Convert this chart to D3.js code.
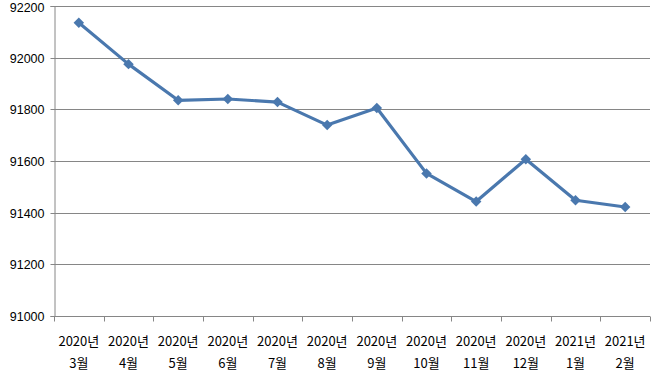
<!DOCTYPE html>
<html>
<head>
<meta charset="utf-8">
<script src="https://cdn.jsdelivr.net/npm/d3@7"></script>
<style>
  body { margin: 0; background: #fff; }
  text { font-family: "Noto Sans CJK KR", "Noto Sans", sans-serif; fill: #000; }
</style>
</head>
<body>
<svg id="chart"></svg>
<script>
const years = ['2020년', '2020년', '2020년', '2020년', '2020년', '2020년', '2020년', '2020년', '2020년', '2020년', '2021년', '2021년'];
const months = ['3월', '4월', '5월', '6월', '7월', '8월', '9월', '10월', '11월', '12월', '1월', '2월'];
const values = [92135, 91975, 91835, 91840, 91828, 91739, 91805, 91552, 91443, 91607, 91448, 91422];
const yTicks = [91000, 91200, 91400, 91600, 91800, 92000, 92200];

const width = 654, height = 388;
const margin = { top: 6, right: 4, bottom: 72, left: 54 };

const svg = d3.select('#chart').attr('width', width).attr('height', height);

const x = d3.scaleBand()
  .domain(d3.range(values.length))
  .range([margin.left, width - margin.right]);

const y = d3.scaleLinear()
  .domain([91000, 92200])
  .range([height - margin.bottom, margin.top]);

const axisColor = '#868686';

// gridlines
svg.append('g')
  .selectAll('line')
  .data(yTicks)
  .enter().append('line')
  .attr('x1', margin.left)
  .attr('x2', width - margin.right)
  .attr('y1', d => Math.round(y(d)) + 0.5)
  .attr('y2', d => Math.round(y(d)) + 0.5)
  .attr('stroke', axisColor);

// y axis
const yAxis = svg.append('g')
  .attr('transform', `translate(${margin.left + 0.5},0)`)
  .call(d3.axisLeft(y).tickValues(yTicks).tickSize(4).tickPadding(6).tickFormat(d3.format('d')));
yAxis.select('.domain').attr('stroke', axisColor);
yAxis.selectAll('.tick line').attr('stroke', axisColor);
yAxis.selectAll('.tick').attr('transform', d => `translate(0,${Math.round(y(d)) + 0.5})`);
yAxis.selectAll('text')
  .style('font-family', '"Liberation Sans", Arial, sans-serif')
  .style('font-size', '12.5px')
  .attr('fill', '#000')
  .attr('dy', d => d === 92200 ? '0.42em' : '0.36em');

// x axis ticks at band boundaries
const xBase = Math.round(y(91000)) + 0.5;
const bounds = d3.range(values.length + 1).map(i => i < values.length ? x(i) : x(values.length - 1) + x.bandwidth());
svg.append('g')
  .selectAll('line')
  .data(bounds)
  .enter().append('line')
  .attr('x1', d => Math.round(d) + 0.5)
  .attr('x2', d => Math.round(d) + 0.5)
  .attr('y1', xBase)
  .attr('y2', xBase + 5)
  .attr('stroke', axisColor);

// x labels
const lbl = svg.append('g')
  .selectAll('g')
  .data(values.map((v, i) => i))
  .enter().append('g')
  .attr('transform', i => `translate(${x(i) + x.bandwidth() / 2},0)`);
lbl.append('text')
  .attr('y', 346)
  .attr('text-anchor', 'middle')
  .style('font-size', '13px')
  .text(i => years[i]);
lbl.append('text')
  .attr('y', 368)
  .attr('text-anchor', 'middle')
  .style('font-size', '13px')
  .text(i => months[i]);

// line
const lineColor = '#4a78ae';
const line = d3.line()
  .x((d, i) => x(i) + x.bandwidth() / 2)
  .y(d => y(d));

svg.append('path')
  .datum(values)
  .attr('d', line)
  .attr('fill', 'none')
  .attr('stroke', lineColor)
  .attr('stroke-width', 3.2)
  .attr('stroke-linejoin', 'round');

svg.append('g')
  .selectAll('path')
  .data(values)
  .enter().append('path')
  .attr('d', d3.symbol(d3.symbolDiamond2, 70))
  .attr('transform', (d, i) => `translate(${x(i) + x.bandwidth() / 2},${y(d)})`)
  .attr('fill', lineColor);
</script>
</body>
</html>
